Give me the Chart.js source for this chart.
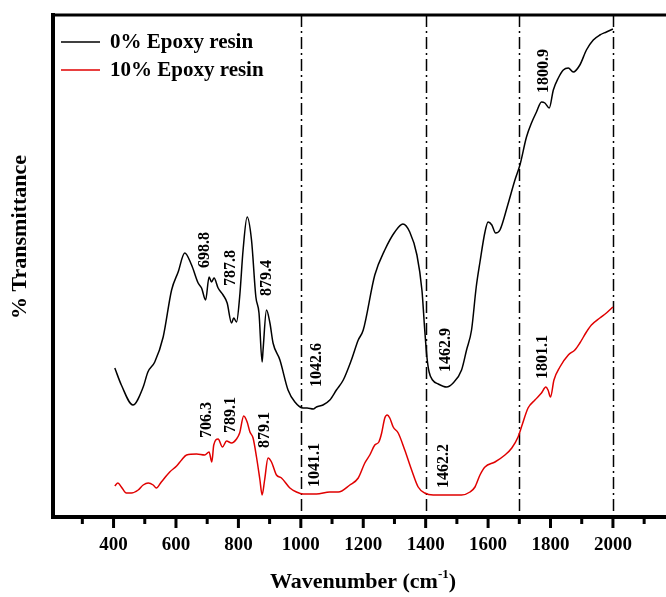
<!DOCTYPE html>
<html><head><meta charset="utf-8">
<script src="https://cdn.jsdelivr.net/npm/chart.js@4/dist/chart.umd.min.js"></script>
<style>html,body{margin:0;padding:0;background:#fff;overflow:hidden}</style>
</head><body><canvas id="c" width="666" height="597"></canvas>
<script>
// ---------- data ----------
const seriesNames = ['0% Epoxy resin', '10% Epoxy resin'];
const seriesColors = ['#000000', '#e00000'];

const wn0 = [404,425,462,495,510,532,559,586,607,628,650,671,682,695,706,714,722,735,751,764,778,785,794,804,815,828,842,856,866,876,879,890,901,911,933,959,981,1007,1020,1040,1050,1071,1093,1114,1136,1162,1184,1200,1237,1269,1301,1327,1349,1372,1388,1397,1404,1411,1422,1440,1467,1488,1515,1531,1547,1562,1574,1590,1600,1612,1624,1638,1663,1686,1702,1723,1739,1755,1771,1782,1796,1809,1825,1841,1857,1873,1894,1915,1937,1958,1979,2000];
const t0  = [149,132,112,130,145,155,180,227,245,264,252,234,229,217,240,235,239,229,222,214,194,199,195,220,267,300,277,220,204,155,167,207,194,174,157,127,115,109,109,108,110,112,117,127,137,157,177,187,242,267,285,293,285,262,227,187,160,145,137,133,130,134,147,167,187,230,255,285,295,292,284,287,312,337,352,380,394,405,415,414,409,427,439,447,449,445,452,467,477,482,485,488];

const wn10 = [404,414,425,441,457,479,495,511,527,537,553,580,602,618,634,666,692,706,715,721,735,749,762,778,794,804,817,828,837,847,858,869,876,884,895,906,922,938,965,986,1007,1050,1093,1120,1157,1184,1205,1221,1237,1250,1259,1269,1277,1285,1296,1312,1333,1355,1376,1397,1424,1515,1542,1558,1574,1590,1622,1654,1676,1696,1709,1728,1750,1771,1785,1792,1800,1811,1830,1857,1878,1894,1915,1931,1958,1979,2000];
const t10  = [31,34,30,24,24,27,32,34,32,29,35,45,51,57,62,63,62,65,55,72,78,70,76,74,78,84,101,95,85,79,60,37,22,37,59,55,42,39,29,25,23,23,25,25,32,39,54,62,72,75,84,99,102,99,90,84,67,47,30,24,22,22,25,30,42,50,55,62,69,80,92,109,117,124,130,127,120,137,150,162,167,174,185,192,199,204,210];

const xTickLabels = [400,600,800,1000,1200,1400,1600,1800,2000];
const minorTicks = [300,500,700,900,1100,1300,1500,1700,1900,2100];
const markerLines = [1000,1400,1700,2000];

const peakText0 = ['698.8','787.8','879.4','1042.6','1462.9','1800.9'];
const peakX0    = [693,776,892,1052,1465,1779];
const peakY0    = [267,249,239,152,167,446];
const peakText10 = ['706.3','789.1','879.1','1041.1','1462.2','1801.1'];
const peakX10    = [699,776,885,1045,1459,1776];
const peakY10    = [97,102,87,52,51,160];

const xTitle = 'Wavenumber (cm';
const xTitleSup = '-1';
const yTitle = '% Transmittance';

// ---------- chart ----------
const SERIF = "'Liberation Serif','Times New Roman',serif";

const figPlugin = {
  id: 'fig',
  beforeDatasetsDraw(chart) {
    const {ctx, chartArea: a, scales: {x}} = chart;
    ctx.save();
    ctx.strokeStyle = '#000';
    ctx.lineWidth = 1.5;
    ctx.setLineDash([12, 4, 2, 4]);
    markerLines.forEach(v => {
      const px = Math.round(x.getPixelForValue(v)) + 0.5;
      ctx.beginPath(); ctx.moveTo(px, a.top); ctx.lineTo(px, a.bottom); ctx.stroke();
    });
    ctx.restore();
  },
  afterDatasetsDraw(chart) {
    const {ctx, scales: {x, y}} = chart;
    ctx.save();
    ctx.fillStyle = '#000';
    ctx.font = 'bold 16px ' + SERIF;
    ctx.textAlign = 'center';
    ctx.textBaseline = 'middle';
    const put = (txt, xs, ys) => txt.forEach((t, i) => {
      ctx.save();
      ctx.translate(x.getPixelForValue(xs[i]), y.getPixelForValue(ys[i]));
      ctx.rotate(-Math.PI / 2);
      ctx.fillText(t, 0, 0);
      ctx.restore();
    });
    put(peakText0, peakX0, peakY0);
    put(peakText10, peakX10, peakY10);
    ctx.restore();
  },
  afterDraw(chart) {
    const {ctx, chartArea: a, scales: {x, y}} = chart;
    ctx.save();
    // top frame line
    ctx.fillStyle = '#000';
    ctx.fillRect(a.left - 2, a.top - 1.5, a.right - a.left + 2, 3);
    // tick marks
    ctx.strokeStyle = '#000';
    ctx.lineWidth = 3;
    xTickLabels.forEach(v => {
      const px = x.getPixelForValue(v);
      ctx.beginPath(); ctx.moveTo(px, a.bottom); ctx.lineTo(px, a.bottom + 11); ctx.stroke();
    });
    minorTicks.forEach(v => {
      const px = x.getPixelForValue(v);
      ctx.beginPath(); ctx.moveTo(px, a.bottom); ctx.lineTo(px, a.bottom + 7); ctx.stroke();
    });
    // x title with superscript
    ctx.fillStyle = '#000';
    ctx.textBaseline = 'alphabetic';
    ctx.textAlign = 'left';
    ctx.font = 'bold 22px ' + SERIF;
    const w1 = ctx.measureText(xTitle).width;
    ctx.font = 'bold 13px ' + SERIF;
    const w2 = ctx.measureText(xTitleSup).width;
    ctx.font = 'bold 22px ' + SERIF;
    const w3 = ctx.measureText(')').width;
    const cx = 363, base = 588;
    let sx = cx - (w1 + w2 + w3) / 2;
    ctx.fillText(xTitle, sx, base);
    ctx.font = 'bold 13px ' + SERIF;
    ctx.fillText(xTitleSup, sx + w1, base - 10);
    ctx.font = 'bold 22px ' + SERIF;
    ctx.fillText(')', sx + w1 + w2, base);
    // y title
    ctx.save();
    ctx.translate(20, 237);
    ctx.rotate(-Math.PI / 2);
    ctx.textAlign = 'center';
    ctx.textBaseline = 'middle';
    ctx.font = 'bold 22px ' + SERIF;
    ctx.fillText(yTitle, 0, 0);
    ctx.restore();
    // legend
    ctx.font = 'bold 21px ' + SERIF;
    ctx.textBaseline = 'middle';
    ctx.textAlign = 'left';
    chart.data.datasets.forEach((ds, i) => {
      const ly = 42 + i * 28;
      ctx.strokeStyle = ds.borderColor;
      ctx.lineWidth = 1.5;
      ctx.beginPath(); ctx.moveTo(61, ly); ctx.lineTo(100, ly); ctx.stroke();
      ctx.fillStyle = '#000';
      ctx.fillText(ds.label, 110, ly + 1);
    });
    ctx.restore();
  }
};

new Chart(document.getElementById('c'), {
  type: 'line',
  data: {
    datasets: [
      { label: seriesNames[0], data: wn0.map((w, i) => ({x: w, y: t0[i]})), borderColor: seriesColors[0], borderWidth: 1.5, pointRadius: 0, cubicInterpolationMode: 'monotone', fill: false },
      { label: seriesNames[1], data: wn10.map((w, i) => ({x: w, y: t10[i]})), borderColor: seriesColors[1], borderWidth: 1.5, pointRadius: 0, cubicInterpolationMode: 'monotone', fill: false }
    ]
  },
  options: {
    responsive: false,
    animation: false,
    devicePixelRatio: 1,
    layout: { padding: { top: 15, left: 0, right: 0, bottom: 0 } },
    plugins: { legend: { display: false }, tooltip: { enabled: false } },
    scales: {
      x: {
        type: 'linear', position: 'bottom', min: 206, max: 2170,
        grid: { display: false, drawTicks: false },
        border: { display: true, width: 4, color: '#000' },
        ticks: { autoSkip: false, maxRotation: 0, padding: 17, color: '#000',
                 font: { family: SERIF, size: 19, weight: 'bold' },
                 callback: v => xTickLabels.includes(v) ? String(v) : '' },
        afterBuildTicks: s => { s.ticks = xTickLabels.map(v => ({value: v})); },
        afterFit: s => { s.height = 80; }
      },
      y: {
        type: 'linear', position: 'left', min: 0, max: 502,
        grid: { display: false, drawTicks: false },
        border: { display: true, width: 4, color: '#000' },
        ticks: { display: false },
        afterFit: s => { s.width = 53; }
      }
    }
  },
  plugins: [figPlugin]
});
</script>
</body></html>
